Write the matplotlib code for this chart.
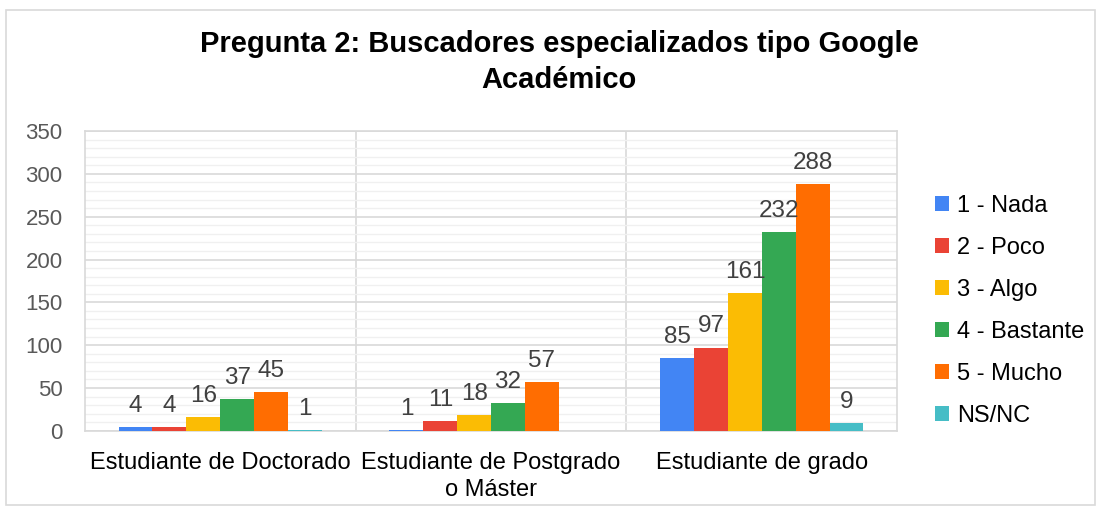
import numpy as np
import matplotlib.pyplot as plt
from matplotlib.patches import Rectangle

plt.rcParams['font.family'] = ['Liberation Sans', 'DejaVu Sans']

categories = ["Estudiante de Doctorado", "Estudiante de Postgrado\no Máster", "Estudiante de grado"]
series = ["1 - Nada", "2 - Poco", "3 - Algo", "4 - Bastante", "5 - Mucho", "NS/NC"]
values = {
    "1 - Nada": [4, 1, 85],
    "2 - Poco": [4, 11, 97],
    "3 - Algo": [16, 18, 161],
    "4 - Bastante": [37, 32, 232],
    "5 - Mucho": [45, 57, 288],
    "NS/NC": [1, 0, 9],
}
colors = ["#4285F4", "#EA4335", "#FBBC04", "#34A853", "#FF6D01", "#46BDC6"]

fig = plt.figure(figsize=(11.01, 5.08), dpi=100)
ax = fig.add_axes([0.077, 0.152, 0.738, 0.59])

x = np.arange(len(categories))
w = 0.75 / len(series)
for i, s in enumerate(series):
    pos = x - 0.375 + w * (i + 0.5)
    bars = ax.bar(pos, values[s], w, color=colors[i], label=s, zorder=3)
    for b, v in zip(bars, values[s]):
        if v == 0:
            continue
        ax.text(b.get_x() + b.get_width() / 2, v + 12, str(v), ha='center', va='bottom',
                fontsize=17.5, color='#404040', zorder=4)

ax.set_xlim(-0.5, 2.5)
ax.set_ylim(0, 350)
ax.set_yticks(np.arange(0, 351, 50))
ax.set_yticks(np.arange(0, 351, 10), minor=True)
ax.grid(axis='y', which='major', color='#d9d9d9', lw=1.2, zorder=0)
ax.grid(axis='y', which='minor', color='#f0f0f0', lw=1.0, zorder=0)
for xs in [0.5, 1.5]:
    ax.axvline(xs, color='#d9d9d9', lw=1.2, zorder=1)
ax.tick_params(axis='y', which='both', length=0, labelsize=16, labelcolor='#595959', pad=16)
ax.tick_params(axis='x', length=0, labelsize=17, labelcolor='#000000', pad=15)
ax.set_xticks(x)
ax.set_xticklabels(categories, linespacing=1.3)
for sp in ax.spines.values():
    sp.set_color('#d9d9d9')
    sp.set_linewidth(1.2)

fig.suptitle("Pregunta 2: Buscadores especializados tipo Google\nAcadémico",
             x=0.508, y=0.94, fontsize=21, fontweight='bold', linespacing=1.35)

leg = ax.legend(loc='center left', bbox_to_anchor=(1.02, 0.4), frameon=False,
                fontsize=17, handlelength=0.6, handleheight=0.6, handletextpad=0.35,
                labelspacing=0.85)

fig.patches.append(Rectangle((0.005, 0.005), 0.99, 0.975, transform=fig.transFigure,
                             fill=False, edgecolor='#d9d9d9', lw=1.2))

fig.savefig("out.png", dpi=100)
